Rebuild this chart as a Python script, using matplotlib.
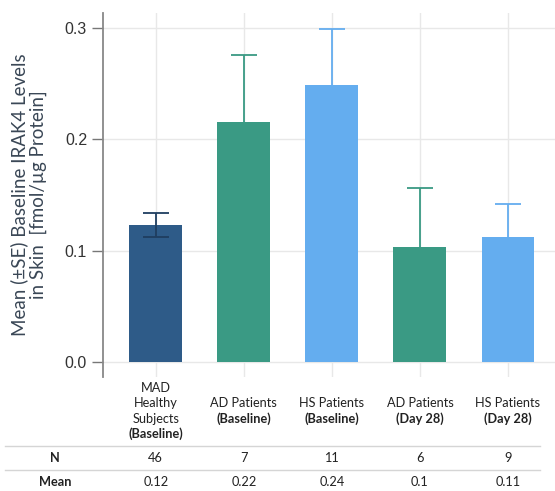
import matplotlib
matplotlib.use("Agg")
import matplotlib.pyplot as plt
from matplotlib.transforms import blended_transform_factory

categories = [["MAD", "Healthy", "Subjects", "(Baseline)"],
              ["AD Patients", "(Baseline)"],
              ["HS Patients", "(Baseline)"],
              ["AD Patients", "(Day 28)"],
              ["HS Patients", "(Day 28)"]]
means = [0.123, 0.216, 0.249, 0.103, 0.112]
se = [0.011, 0.060, 0.050, 0.053, 0.030]
n_values = ["46", "7", "11", "6", "9"]
mean_labels = ["0.12", "0.22", "0.24", "0.1", "0.11"]
colors = ["#2E5B88", "#3A9A84", "#64ADEF", "#3A9A84", "#64ADEF"]
err_colors = ["#1F3E60", "#3A9A84", "#64ADEF", "#3A9A84", "#64ADEF"]

W, H = 555, 491
fig = plt.figure(figsize=(W / 100, H / 100), dpi=100)
ax = fig.add_axes([103 / W, 1 - 377 / H, (W - 103) / W, 364 / H])

x = list(range(len(means)))
ax.bar(x, means, width=0.6, color=colors, zorder=2)
cap = 0.15
for i in x:
    top = means[i] + se[i]
    ax.vlines(i, means[i], top, color=err_colors[i], linewidth=1.3, zorder=3)
    ax.hlines(top, i - cap, i + cap, color=err_colors[i], linewidth=1.3, zorder=3)
    if i == 0:
        bot = means[i] - se[i]
        ax.vlines(i, bot, means[i], color=err_colors[i], linewidth=1.3, zorder=3)
        ax.hlines(bot, i - cap, i + cap, color=err_colors[i], linewidth=1.3, zorder=3)

ax.set_xlim(-0.6, 4.535)
ax.set_ylim(-0.0135, 0.3135)
ax.set_yticks([0.0, 0.1, 0.2, 0.3])
ax.set_yticklabels(["0.0", "0.1", "0.2", "0.3"], fontsize=11.5, color="#333333",
                   family="Liberation Sans")
ax.set_xticks(x)
ax.set_xticklabels([])
ax.tick_params(axis="x", length=0)
ax.tick_params(axis="y", length=8, color="#777777", width=1)
ax.grid(True, color="#E8E8E8", linewidth=1, zorder=0)
ax.set_axisbelow(True)
for s in ["top", "right", "bottom"]:
    ax.spines[s].set_visible(False)
ax.spines["left"].set_color("#888888")
ax.spines["left"].set_linewidth(1.3)

ax.set_ylabel("Mean (±SE) Baseline IRAK4 Levels\nin Skin  [fmol/µg Protein]",
              fontsize=13.5, color="#3A4756", family="Lato",
              linespacing=1.1, labelpad=13)

tr = blended_transform_factory(ax.transData, fig.transFigure)
line_h = 15.2
fs = 9.2
for i, lines in enumerate(categories):
    nl = len(lines)
    ycenter = 411
    for j, t in enumerate(lines):
        ypix = ycenter + (j - (nl - 1) / 2) * line_h
        bold = (j == nl - 1)
        fig.text(i, 1 - ypix / H, t, transform=tr, ha="center", va="center",
                 fontsize=fs, family="Lato", color="#222222",
                 fontweight="bold" if bold else "normal")

for ypix in [446, 470]:
    fig.add_artist(plt.Line2D([5 / W, 540 / W], [1 - ypix / H] * 2,
                              color="#D5D5D5", linewidth=1, transform=fig.transFigure))

fig.text(55 / W, 1 - 458 / H, "N", ha="center", va="center", fontsize=fs,
         family="Lato", fontweight="bold", color="#222222")
fig.text(55 / W, 1 - 482 / H, "Mean", ha="center", va="center", fontsize=fs,
         family="Lato", fontweight="bold", color="#222222")
for i in x:
    fig.text(i, 1 - 458 / H, n_values[i], transform=tr, ha="center", va="center",
             fontsize=fs, family="Lato", color="#222222")
    fig.text(i, 1 - 482 / H, mean_labels[i], transform=tr, ha="center", va="center",
             fontsize=fs, family="Lato", color="#222222")

fig.savefig("out.png", dpi=100)
